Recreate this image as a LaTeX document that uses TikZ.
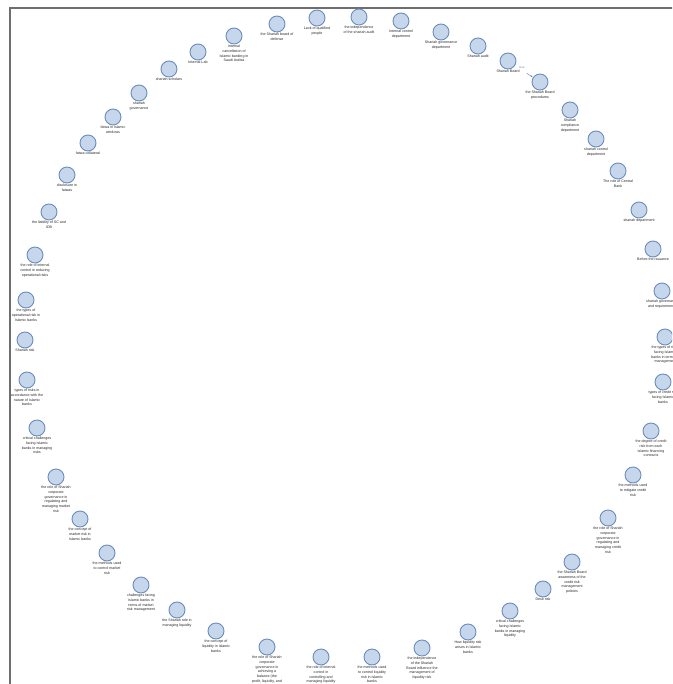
\documentclass[tikz,border=0pt]{standalone}
\usepackage{fontspec}
\setmainfont{Liberation Sans}
\usetikzlibrary{arrows.meta}
\definecolor{bubfill}{HTML}{C6D7EC}
\definecolor{bubdraw}{HTML}{6A8DBF}
\definecolor{framegray}{HTML}{6E6E6E}
\tikzset{
  bub/.style={circle, draw=bubdraw, fill=bubfill, line width=0.9pt, minimum size=16pt, inner sep=0pt},
  lab/.style={anchor=north, align=center, inner sep=0.4pt, font=\fontsize{3.6}{4.7}\selectfont, text=black!85},
  link/.style={draw=bubdraw, line width=0.5pt, -{Stealth[length=2pt,width=2pt]}, shorten <=14pt, shorten >=0.5pt},
}
\newcommand\bubble[4]{%
  \node[bub] (#1) at (#2,#3) {};
  \node[lab] (#1l) at (#1.south) {#4};
}
\begin{document}
\begin{tikzpicture}[x=1pt,y=-1pt]
\useasboundingbox (0,0) rectangle (672,684);
\clip (0,0) rectangle (672,684);
\fill[white] (0,0) rectangle (672,684);
\coordinate (ftl) at (10,8);
\coordinate (ftr) at (690,8);
\coordinate (fbl) at (10,700);
\draw[framegray, line width=1.8pt] (fbl) -- (ftl) -- (ftr);
\bubble{n1}{277}{24}{the Shariah board of\\defense}
\bubble{n2}{317}{18}{Lack of qualified\\people}
\bubble{n3}{359}{17}{the independence\\of the shariah audit}
\bubble{n4}{401}{21}{Internal control\\department}
\bubble{n5}{441}{32}{Shariah governance\\department}
\bubble{n6}{478}{46}{Shariah audit}
\bubble{n7}{508}{61}{Shariah Board}
\bubble{n8}{540}{82}{the Shariah Board\\procedures}
\bubble{n9}{570}{110}{Shariah\\compliance\\department}
\bubble{n10}{596}{139}{shariah control\\department}
\bubble{n11}{618}{171}{The role of Central\\Bank}
\bubble{n12}{639}{210}{shariah department}
\bubble{n13}{653}{249}{Before the issuance}
\bubble{n14}{662}{291}{shariah governance\\and requirements}
\bubble{n15}{665}{337}{the types of risks\\facing Islamic\\banks in terms of\\management}
\bubble{n16}{663}{382}{types of credit risk\\facing Islamic\\banks}
\bubble{n17}{651}{431}{the degree of credit\\risk from each\\Islamic financing\\contracts}
\bubble{n18}{633}{475}{the methods used\\to mitigate credit\\risk}
\bubble{n19}{608}{518}{the role of Shariah\\corporate\\governance in\\regulating and\\managing credit\\risk}
\bubble{n20}{572}{562}{the Shariah Board\\awareness of the\\credit risk\\management\\policies}
\bubble{n21}{543}{589}{Desk risk}
\bubble{n22}{510}{611}{critical challenges\\facing Islamic\\banks in managing\\liquidity}
\bubble{n23}{468}{632}{How liquidity risk\\arises in Islamic\\banks}
\bubble{n24}{422}{648}{the independence\\of the Shariah\\Board influence the\\management of\\liquidity risk}
\bubble{n25}{372}{657}{the methods used\\to control liquidity\\risk in Islamic\\banks}
\bubble{n26}{321}{657}{the role of internal\\control in\\controlling and\\managing liquidity}
\bubble{n27}{267}{647}{the role of Shariah\\corporate\\governance in\\achieving a\\balance (the\\profit, liquidity, and}
\bubble{n28}{216}{631}{the concept of\\liquidity in Islamic\\banks}
\bubble{n29}{177}{610}{the Shariah role in\\managing liquidity}
\bubble{n30}{141}{585}{challenges facing\\Islamic banks in\\terms of market\\risk management}
\bubble{n31}{107}{553}{the methods used\\to control market\\risk}
\bubble{n32}{80}{519}{the concept of\\market risk in\\Islamic banks}
\bubble{n33}{56}{477}{the role of Shariah\\corporate\\governance in\\regulating and\\managing market\\risk}
\bubble{n34}{37}{428}{critical challenges\\facing Islamic\\banks in managing\\risks}
\bubble{n35}{27}{380}{types of risks in\\accordance with the\\nature of Islamic\\banks}
\bubble{n36}{25}{340}{Shariah risk}
\bubble{n37}{26}{300}{the types of\\operational risk in\\Islamic banks}
\bubble{n38}{35}{255}{the role of internal\\control in reducing\\operational risks}
\bubble{n39}{49}{212}{the liability of SC and\\IDB}
\bubble{n40}{67}{175}{disclosure in\\fatwas}
\bubble{n41}{88}{143}{fatwa collateral}
\bubble{n42}{113}{117}{fatwa in Islamic\\windows}
\bubble{n43}{139}{93}{shariah\\governance}
\bubble{n44}{169}{69}{shariah scholars}
\bubble{n45}{198}{52}{Internal Lab}
\bubble{n46}{234}{36}{Internal\\cancellation of\\Islamic banking in\\Saudi Arabia}
\draw[link] (n7) -- node[pos=0.25, above right=-1pt, font=\fontsize{3}{3.5}\selectfont, text=bubdraw, inner sep=0.3pt] {Use} (n8);
\end{tikzpicture}
\end{document}
